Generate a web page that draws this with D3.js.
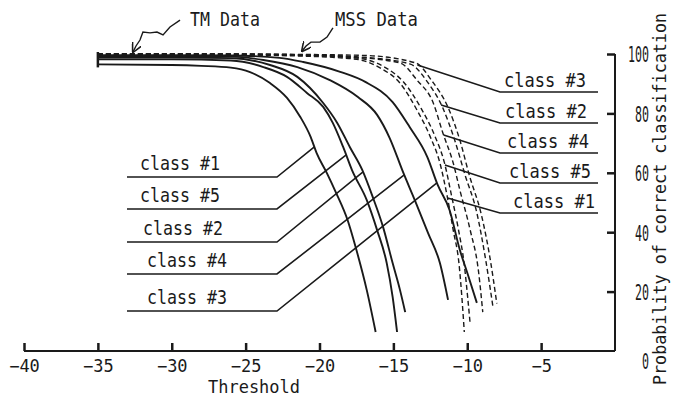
<!DOCTYPE html>
<html>
<head>
<meta charset="utf-8">
<script src="https://cdn.jsdelivr.net/npm/d3@7"></script>
<style>
  html, body { margin: 0; padding: 0; background: #fff; }
  svg text { font-family: 'DejaVu Sans Mono', 'Liberation Mono', monospace; fill: #1a1a1a; }
</style>
</head>
<body>
<div id="chart"></div>
<script>
// TM data (solid), threshold vs probability of correct classification (%)
const tm1X = [-35, -30, -28, -26, -24.7, -23.35, -22.2, -21.3, -20.6, -20.2, -19.5, -18.9, -18.1, -17.5, -16.8, -16.2];
const tm1Y = [96.5, 96.3, 96, 95.4, 93.9, 90.2, 85.2, 78.8, 72.1, 66.7, 59.9, 53.5, 44.1, 34, 20.5, 6.4];
const tm5X = [-35, -30, -26, -23.8, -22.2, -20.85, -19.75, -19.1, -18.4, -17.8, -16.8, -16.1, -15.45, -15.05, -14.75];
const tm5Y = [98.2, 98.2, 97.8, 95.6, 92.3, 86.9, 82.2, 76.8, 68.7, 60.9, 50.8, 40.7, 29.6, 18.2, 6.4];
const tm2X = [-35, -30, -26, -23.35, -21.5, -19.75, -18.8, -17.95, -17.1, -16.4, -15.7, -15.05, -14.55, -14.2];
const tm2Y = [98.8, 98.8, 98.6, 96.3, 92.3, 83.5, 76.8, 68.7, 60.9, 51.9, 41.8, 29.6, 20.5, 13.1];
const tm4X = [-35, -30, -26, -23.8, -21.5, -19.3, -17.4, -16.1, -15.25, -14.35, -13.55, -12.65, -11.85, -11.3];
const tm4Y = [99.2, 99.2, 99.1, 98.0, 95.6, 91.2, 85.5, 79.5, 71.7, 60.3, 50.8, 39.7, 29.6, 17.2];
const tm3X = [-35, -30, -26, -22.7, -21.1, -18.6, -16.9, -15.05, -13.9, -12.7, -12.0, -11.2, -10.5, -9.95, -9.35];
const tm3Y = [99.6, 99.6, 99.5, 98.7, 97.3, 94.0, 90.6, 83.8, 75.4, 65.3, 55.9, 47.5, 34.0, 25.6, 16.2];

// MSS data (dashed)
const mss1X = [-35, -30, -26, -21.3, -18.6, -17.25, -15.9, -14.55, -13.4, -12.5, -11.85, -11.35, -10.95, -10.55, -10.35, -10.2];
const mss1Y = [99.8, 99.8, 99.7, 99.3, 98.7, 98.0, 95.3, 90.2, 81.1, 72.1, 63.3, 51.9, 40.7, 29.0, 17.2, 6.4];
const mss5X = [-35, -30, -26, -21.3, -18.4, -17.0, -15.6, -14.3, -13.1, -12.2, -11.55, -11.05, -10.6, -10.2, -9.95, -9.8];
const mss5Y = [99.9, 99.9, 99.8, 99.5, 99.0, 98.3, 95.6, 90.5, 81.5, 72.5, 63.5, 52.0, 41.0, 29.0, 17.0, 9.0];
const mss4X = [-35, -30, -26, -22, -17.95, -14.55, -13.4, -12.3, -11.65, -10.95, -10.5, -9.8, -9.25, -8.95];
const mss4Y = [100, 100, 99.9, 99.7, 99.0, 97.0, 91.2, 83.5, 73.4, 63.3, 54.2, 40.7, 27.3, 13.1];
const mss2X = [-35, -30, -26, -22, -17.25, -13.85, -12.7, -11.65, -10.85, -10.15, -9.35, -8.75, -8.25];
const mss2Y = [100, 100, 100, 99.8, 99.0, 96.6, 90.6, 81.8, 71.0, 59.3, 46.5, 30.6, 14.5];
const mss3X = [-35, -30, -26, -22, -16.9, -13.5, -12.4, -11.3, -10.5, -9.85, -9.05, -8.45, -8.0];
const mss3Y = [100, 100, 100, 99.9, 99.5, 97, 91, 82, 71, 59, 46, 31, 16];

// label order and the value where each leader line meets its curve
const tmLabels = ['class #1', 'class #5', 'class #2', 'class #4', 'class #3'];
const tmLeaderAt = [68.7, 66, 60.3, 59.3, 56.6];
const mssLabels = ['class #3', 'class #2', 'class #4', 'class #5', 'class #1'];
const mssLeaderAt = [96.3, 82.8, 72.7, 62.6, 51.5];

const xTicks = [-40, -35, -30, -25, -20, -15, -10, -5];
const yTicks = [0, 20, 40, 60, 80, 100];

// squiggly arrows pointing at the two groups
const tmArrowX = [-29.44, -30.12, -30.59, -31.0, -31.47, -31.95, -32.15, -32.42, -32.62];
const tmArrowY = [111.4, 109.1, 106.4, 107.4, 107.1, 107.4, 104.7, 102.7, 100.7];
const mssArrowX = [-19.09, -19.49, -19.97, -20.58, -20.91, -21.18];
const mssArrowY = [108.8, 105.7, 104.0, 104.0, 102.7, 101.0];

const tmSeries = {
  'class #1': [tm1X, tm1Y], 'class #5': [tm5X, tm5Y], 'class #2': [tm2X, tm2Y],
  'class #4': [tm4X, tm4Y], 'class #3': [tm3X, tm3Y]
};
const mssSeries = {
  'class #1': [mss1X, mss1Y], 'class #5': [mss5X, mss5Y], 'class #4': [mss4X, mss4Y],
  'class #2': [mss2X, mss2Y], 'class #3': [mss3X, mss3Y]
};

const W = 674, H = 396;
const ink = '#1a1a1a';

const svg = d3.select('#chart').append('svg')
  .attr('width', W).attr('height', H);

const x = d3.scaleLinear().domain([-40, 0]).range([24, 615]);
const y = d3.scaleLinear().domain([0, 100]).range([351, 54]);

const toPts = (xs, ys) => xs.map((v, i) => [v, ys[i]]);
const line = d3.line().x(d => x(d[0])).y(d => y(d[1])).curve(d3.curveMonotoneX);

// x where a curve passes through value v (linear between read points)
function xAt(xs, ys, v) {
  for (let i = 0; i < ys.length - 1; i++) {
    if ((ys[i] - v) * (ys[i + 1] - v) <= 0 && ys[i] !== ys[i + 1]) {
      const t = (v - ys[i]) / (ys[i + 1] - ys[i]);
      return xs[i] + t * (xs[i + 1] - xs[i]);
    }
  }
  return xs[xs.length - 1];
}

// axes
const xAxis = svg.append('g')
  .attr('transform', `translate(0,${y(0)})`)
  .call(d3.axisBottom(x).tickValues(xTicks).tickSize(-8).tickPadding(9).tickSizeOuter(0));
xAxis.select('.domain').attr('stroke', ink).attr('stroke-width', 2)
  .attr('d', `M${x(-40)},0H${x(0)}`);
xAxis.selectAll('.tick line').attr('stroke', ink).attr('stroke-width', 2.5);
xAxis.selectAll('.tick text').style('font-size', '17px').attr('fill', ink);

const yAxis = svg.append('g')
  .attr('transform', `translate(${x(0)},0)`)
  .call(d3.axisRight(y).tickValues(yTicks).tickSize(-8).tickPadding(10).tickSizeOuter(0));
yAxis.select('.domain').attr('stroke', ink).attr('stroke-width', 2)
  .attr('d', `M0,${y(100)}V${y(0)}`);
yAxis.selectAll('.tick line').attr('stroke', ink).attr('stroke-width', 2.5)
  .attr('x2', d => d === 0 ? 0 : -8);
yAxis.selectAll('.tick text')
  .attr('text-anchor', 'end').attr('x', 34)
  .attr('dy', d => d === 0 ? '0.8em' : '0.36em')
  .attr('textLength', d => String(d).length * 7)
  .attr('lengthAdjust', 'spacingAndGlyphs')
  .style('font-size', '22px').attr('fill', ink);

svg.append('text')
  .attr('transform', `translate(666,199) rotate(-90)`)
  .attr('text-anchor', 'middle')
  .attr('textLength', 372).attr('lengthAdjust', 'spacingAndGlyphs')
  .style('font-size', '18px')
  .text('Probability of correct classification');

svg.append('text')
  .attr('x', 254).attr('y', 393)
  .attr('text-anchor', 'middle')
  .attr('textLength', 92).attr('lengthAdjust', 'spacingAndGlyphs')
  .style('font-size', '18px')
  .text('Threshold');

// curves
const plot = svg.append('g');
Object.entries(tmSeries).forEach(([k, [xs, ys]]) => {
  plot.append('path')
    .attr('d', line(toPts(xs, ys)))
    .attr('fill', 'none').attr('stroke', ink).attr('stroke-width', 1.9);
});
Object.entries(mssSeries).forEach(([k, [xs, ys]]) => {
  plot.append('path')
    .attr('d', line(toPts(xs, ys)))
    .attr('fill', 'none').attr('stroke', ink).attr('stroke-width', 1.4)
    .attr('stroke-dasharray', '5,3');
});

// bracket joining the curve starts at -35
const starts = Object.values(tmSeries).concat(Object.values(mssSeries)).map(s => s[1][0]);
plot.append('line')
  .attr('x1', x(-35)).attr('x2', x(-35))
  .attr('y1', y(d3.max(starts)) - 2).attr('y2', y(d3.min(starts)) + 3)
  .attr('stroke', ink).attr('stroke-width', 2.5);

// left labels (TM)
const leftUnder = [177, 209, 242, 274, 311];
const leftTextX = [140, 140, 143, 147, 147];
tmLabels.forEach((lab, i) => {
  const [xs, ys] = tmSeries[lab];
  const v = tmLeaderAt[i];
  const uy = leftUnder[i];
  svg.append('path')
    .attr('d', `M127,${uy}H277L${x(xAt(xs, ys, v))},${y(v)}`)
    .attr('fill', 'none').attr('stroke', ink).attr('stroke-width', 1.6);
  svg.append('text')
    .attr('x', leftTextX[i]).attr('y', uy - 7)
    .attr('textLength', 80).attr('lengthAdjust', 'spacingAndGlyphs')
    .style('font-size', '19px').text(lab);
});

// right labels (MSS)
const rightUnder = [92, 123, 153, 183, 213];
const rightTextX = [504, 505, 507, 509, 513];
mssLabels.forEach((lab, i) => {
  const [xs, ys] = mssSeries[lab];
  const v = mssLeaderAt[i];
  const uy = rightUnder[i];
  svg.append('path')
    .attr('d', `M${x(xAt(xs, ys, v))},${y(v)}L500,${uy}H598`)
    .attr('fill', 'none').attr('stroke', ink).attr('stroke-width', 1.6);
  svg.append('text')
    .attr('x', rightTextX[i]).attr('y', uy - 5)
    .attr('textLength', 82).attr('lengthAdjust', 'spacingAndGlyphs')
    .style('font-size', '19px').text(lab);
});

// group annotations
svg.append('defs').append('marker')
  .attr('id', 'head').attr('viewBox', '0 0 10 10')
  .attr('refX', 9).attr('refY', 5)
  .attr('markerWidth', 7).attr('markerHeight', 7)
  .attr('orient', 'auto')
  .append('path').attr('d', 'M0,0L10,5L0,10')
  .attr('fill', 'none').attr('stroke', ink).attr('stroke-width', 1.6);

const sq = d3.line().x(d => x(d[0])).y(d => y(d[1]));
svg.append('path')
  .attr('d', sq(toPts(tmArrowX, tmArrowY)))
  .attr('fill', 'none').attr('stroke', ink).attr('stroke-width', 1.4)
  .attr('marker-end', 'url(#head)');
svg.append('path')
  .attr('d', sq(toPts(mssArrowX, mssArrowY)))
  .attr('fill', 'none').attr('stroke', ink).attr('stroke-width', 1.4)
  .attr('marker-end', 'url(#head)');

svg.append('text').attr('x', 190).attr('y', 26)
  .attr('textLength', 70).attr('lengthAdjust', 'spacingAndGlyphs')
  .style('font-size', '19px').text('TM Data');
svg.append('text').attr('x', 335).attr('y', 26)
  .attr('textLength', 83).attr('lengthAdjust', 'spacingAndGlyphs')
  .style('font-size', '19px').text('MSS Data');
</script>
</body>
</html>
